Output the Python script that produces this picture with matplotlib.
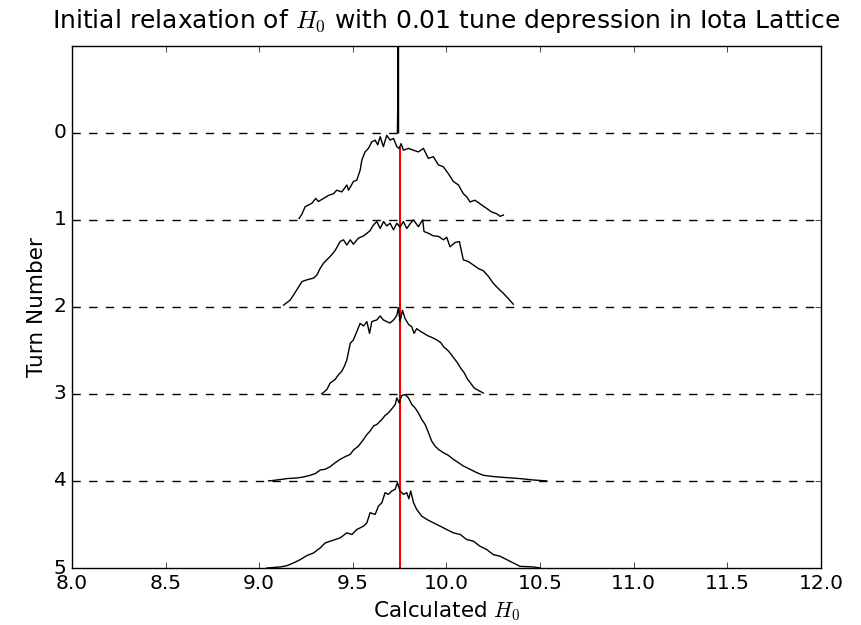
import matplotlib
matplotlib.use("Agg")
import matplotlib.pyplot as plt

# Turn numbers (baselines of each histogram)
turns = [0, 1, 2, 3, 4, 5]

# Normalised histogram profiles (height above each turn's baseline) vs H0
turn0_x = [9.738, 9.740, 9.742, 9.744]
turn0_h = [0.0, 0.35, 8.0, 0.0]

turn1_x = [9.213, 9.228, 9.245, 9.263, 9.281, 9.302, 9.316, 9.343, 9.37, 9.397,
           9.414, 9.441, 9.468, 9.477, 9.503, 9.521, 9.539, 9.548, 9.565, 9.583,
           9.601, 9.619, 9.633, 9.646, 9.663, 9.681, 9.699, 9.717, 9.735, 9.747,
           9.758, 9.77, 9.797, 9.823, 9.85, 9.877, 9.903, 9.93, 9.957, 9.983,
           10.01, 10.037, 10.064, 10.09, 10.108, 10.126, 10.152, 10.188, 10.215,
           10.241, 10.268, 10.286, 10.304]
turn1_h = [0.015, 0.065, 0.15, 0.17, 0.19, 0.245, 0.21, 0.245, 0.28, 0.30,
           0.34, 0.32, 0.40, 0.34, 0.44, 0.455, 0.57, 0.685, 0.78, 0.82,
           0.895, 0.915, 0.86, 0.955, 0.84, 0.97, 0.915, 0.935, 0.84, 0.82,
           0.875, 0.80, 0.82, 0.80, 0.78, 0.82, 0.705, 0.725, 0.63, 0.61,
           0.53, 0.44, 0.40, 0.30, 0.265, 0.205, 0.225, 0.17, 0.13,
           0.09, 0.07, 0.04, 0.055]

turn2_x = [9.130, 9.165, 9.183, 9.228, 9.254, 9.290, 9.308, 9.325, 9.343, 9.361,
           9.388, 9.406, 9.432, 9.450, 9.468, 9.486, 9.503, 9.530, 9.557, 9.575,
           9.592, 9.610, 9.628, 9.646, 9.664, 9.681, 9.699, 9.717, 9.735, 9.752,
           9.770, 9.788, 9.806, 9.824, 9.850, 9.873, 9.880, 9.904, 9.930, 9.957,
           9.984, 10.001, 10.019, 10.046, 10.069, 10.090, 10.117, 10.144, 10.170,
           10.197, 10.224, 10.250, 10.277, 10.304, 10.330, 10.357]
turn2_h = [0.02, 0.077, 0.135, 0.29, 0.31, 0.33, 0.365, 0.44, 0.50, 0.54,
           0.60, 0.65, 0.75, 0.77, 0.71, 0.77, 0.72, 0.79, 0.815, 0.845,
           0.875, 0.94, 0.98, 0.90, 0.98, 0.93, 0.96, 0.885, 0.96, 0.915,
           0.98, 0.90, 0.955, 1.0, 0.92, 1.0, 0.865, 0.845, 0.815, 0.81,
           0.77, 0.80, 0.69, 0.74, 0.75, 0.54, 0.52, 0.48, 0.44,
           0.415, 0.35, 0.27, 0.21, 0.155, 0.095, 0.03]

turn3_x = [9.334, 9.361, 9.379, 9.405, 9.423, 9.441, 9.454, 9.468, 9.486, 9.503,
           9.521, 9.539, 9.557, 9.575, 9.589, 9.601, 9.628, 9.646, 9.663, 9.681,
           9.699, 9.720, 9.735, 9.743, 9.752, 9.765, 9.779, 9.797, 9.815, 9.827,
           9.841, 9.863, 9.880, 9.898, 9.921, 9.948, 9.969, 9.987, 10.005, 10.023,
           10.040, 10.058, 10.076, 10.094, 10.112, 10.130, 10.147, 10.170, 10.197]
turn3_h = [0.0, 0.05, 0.125, 0.165, 0.22, 0.26, 0.315, 0.39, 0.58, 0.62,
           0.715, 0.81, 0.78, 0.83, 0.695, 0.83, 0.85, 0.895, 0.85, 0.83,
           0.815, 0.855, 0.905, 0.99, 0.83, 0.96, 0.865, 0.80, 0.77, 0.695,
           0.75, 0.715, 0.695, 0.67, 0.65, 0.62, 0.59, 0.535, 0.505, 0.46,
           0.41, 0.36, 0.295, 0.245, 0.17, 0.12, 0.07, 0.04, 0.01]

turn4_x = [9.050, 9.094, 9.148, 9.201, 9.237, 9.272, 9.299, 9.326, 9.352, 9.379,
           9.406, 9.432, 9.459, 9.486, 9.503, 9.530, 9.557, 9.575, 9.592, 9.610,
           9.628, 9.655, 9.672, 9.690, 9.708, 9.726, 9.735, 9.747, 9.761, 9.779,
           9.797, 9.815, 9.832, 9.850, 9.868, 9.886, 9.904, 9.921, 9.939, 9.957,
           9.984, 10.010, 10.037, 10.064, 10.090, 10.126, 10.162, 10.197, 10.251,
           10.322, 10.393, 10.464, 10.535]
turn4_h = [0.0, 0.011, 0.027, 0.034, 0.046, 0.065, 0.084, 0.126, 0.134, 0.164,
           0.21, 0.248, 0.279, 0.305, 0.355, 0.40, 0.477, 0.534, 0.573, 0.63,
           0.649, 0.706, 0.752, 0.782, 0.828, 0.878, 0.954, 0.897, 0.981, 0.992,
           0.954, 0.878, 0.84, 0.782, 0.706, 0.649, 0.553, 0.458, 0.40, 0.363,
           0.324, 0.294, 0.248, 0.21, 0.172, 0.134, 0.095, 0.065, 0.05,
           0.038, 0.027, 0.011, 0.0]

turn5_x = [9.041, 9.112, 9.148, 9.183, 9.219, 9.254, 9.290, 9.326, 9.352, 9.379,
           9.406, 9.432, 9.468, 9.495, 9.521, 9.557, 9.575, 9.592, 9.619, 9.637,
           9.655, 9.672, 9.690, 9.708, 9.726, 9.738, 9.752, 9.770, 9.788, 9.799,
           9.809, 9.824, 9.841, 9.868, 9.895, 9.930, 9.966, 10.001, 10.037, 10.073,
           10.108, 10.144, 10.179, 10.215, 10.250, 10.286, 10.322, 10.357, 10.393,
           10.464, 10.500]
turn5_h = [0.0, 0.012, 0.027, 0.058, 0.096, 0.142, 0.173, 0.231, 0.288, 0.308,
           0.327, 0.346, 0.404, 0.385, 0.442, 0.481, 0.519, 0.635, 0.615, 0.712,
           0.75, 0.865, 0.846, 0.885, 0.904, 0.981, 0.885, 0.846, 0.865, 0.796,
           0.885, 0.75, 0.673, 0.596, 0.558, 0.519, 0.481, 0.442, 0.404, 0.385,
           0.327, 0.308, 0.25, 0.212, 0.154, 0.135, 0.096, 0.058, 0.019,
           0.012, 0.0]

profiles = [(turn0_x, turn0_h), (turn1_x, turn1_h), (turn2_x, turn2_h),
            (turn3_x, turn3_h), (turn4_x, turn4_h), (turn5_x, turn5_h)]

# Reference H0 value (red line) and its top end
h0_ref = 9.75
h0_ref_top = 0.17

x_ticks = [8.0, 8.5, 9.0, 9.5, 10.0, 10.5, 11.0, 11.5, 12.0]

plt.style.use("classic")
plt.rcParams["mathtext.fontset"] = "cm"

fig = plt.figure(figsize=(8.62, 6.25), dpi=100)
fig.patch.set_facecolor("white")
ax = fig.add_axes([0.0835, 0.0912, 0.8689, 0.8357])

for k in turns[:-1]:
    ax.axhline(k, color="black", linestyle="--", linewidth=1.0, zorder=1)

for k, (xs, hs) in zip(turns, profiles):
    ax.plot(xs, [k - h for h in hs], color="black", linewidth=1.0, zorder=3)

ax.plot([h0_ref, h0_ref], [turns[-1], h0_ref_top], color="red", linewidth=1.5, zorder=2)

ax.set_xlim(8.0, 12.0)
ax.set_ylim(5, -1)
ax.set_xticks(x_ticks)
ax.set_xticklabels([f"{t:.1f}" for t in x_ticks])
ax.set_yticks(turns)
ax.set_yticklabels([str(t) for t in turns])
ax.tick_params(labelsize=14.5)
ax.set_xlabel(r"Calculated $H_0$", fontsize=15.5)
ax.set_ylabel("Turn Number", fontsize=15.5)
ax.set_title(r"Initial relaxation of $H_0$ with 0.01 tune depression in Iota Lattice",
             fontsize=18, y=1.02)

fig.savefig("out.png", dpi=100, facecolor="white")
